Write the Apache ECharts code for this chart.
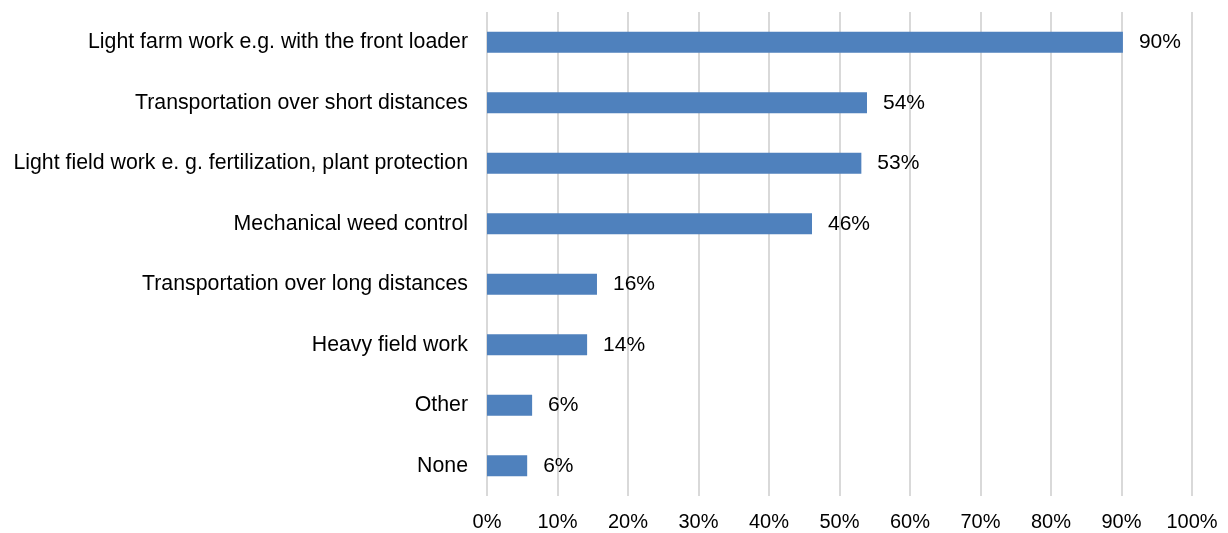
<!DOCTYPE html>
<html>
<head>
<meta charset="utf-8">
<script src="https://cdn.jsdelivr.net/npm/echarts@6/dist/echarts.min.js"></script>
<style>html,body{margin:0;padding:0;background:#fff}#c{width:1228px;height:533px}</style>
</head>
<body>
<div id="c"></div>
<script>
const categories = [
  "Light farm work e.g. with the front loader",
  "Transportation over short distances",
  "Light field work e. g. fertilization, plant protection",
  "Mechanical weed control",
  "Transportation over long distances",
  "Heavy field work",
  "Other",
  "None"
];
const values = [90.2, 53.9, 53.1, 46.1, 15.6, 14.2, 6.4, 5.7];
const valueLabels = ["90%", "54%", "53%", "46%", "16%", "14%", "6%", "6%"];

const chart = echarts.init(document.getElementById('c'));
chart.setOption({
  animation: false,
  grid: { left: 487, right: 36, top: 12, bottom: 37, containLabel: false },
  xAxis: {
    type: 'value', min: 0, max: 100, interval: 10,
    axisLine: { show: false }, axisTick: { show: false },
    splitLine: { show: true, lineStyle: { color: '#d9d9d9', width: 2 } },
    axisLabel: { formatter: '{value}%', color: '#000', fontSize: 20, fontFamily: 'Liberation Sans, Arial', margin: 16 }
  },
  yAxis: {
    type: 'category', inverse: true, data: categories,
    axisLine: { show: false }, axisTick: { show: false },
    axisLabel: { color: '#000', fontSize: 21.3, fontFamily: 'Liberation Sans, Arial', margin: 19 }
  },
  series: [{
    type: 'bar', data: values, barWidth: 21,
    itemStyle: { color: '#4f81bd' },
    label: {
      show: true, position: 'right', distance: 16,
      color: '#000', fontSize: 21, fontFamily: 'Liberation Sans, Arial',
      formatter: p => valueLabels[p.dataIndex]
    }
  }]
});
</script>
</body>
</html>
